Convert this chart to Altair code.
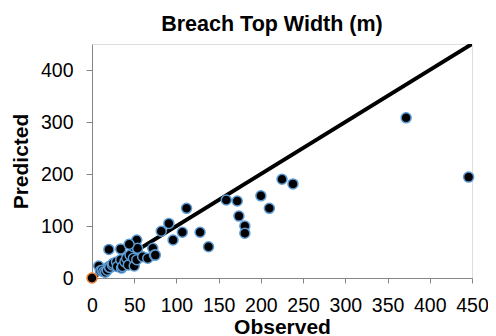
import altair as alt
import pandas as pd

observed = [8, 10, 12, 14, 16, 18, 20, 21, 24, 25, 29, 30, 34, 35, 36, 39, 41, 43, 45, 49, 49,
            50, 53, 53, 54, 60, 66, 72, 74, 75, 20, 34, 44,
            82, 91, 96, 107, 112, 128, 138, 159, 172, 174, 181, 181, 200, 210, 225, 238, 372, 446]
predicted = [23, 14, 15, 12, 11, 15, 22, 20, 25, 28, 31, 22, 35, 19, 22, 31, 38, 25, 44, 60, 38,
             23, 35, 73, 57, 41, 38, 57, 44, 44, 55, 56, 65,
             90, 105, 73, 88, 134, 88, 60, 150, 148, 119, 100, 86, 158, 134, 190, 181, 308, 194]
origin_obs = [0]
origin_pred = [0]
line_x = [0, 450]
line_y = [0, 450]
x_ticks = list(range(0, 451, 50))
y_ticks = list(range(0, 401, 100))

pts = pd.DataFrame({"Observed": observed, "Predicted": predicted})
orig = pd.DataFrame({"Observed": origin_obs, "Predicted": origin_pred})
ln = pd.DataFrame({"Observed": line_x, "Predicted": line_y})

FONT = "Liberation Sans"

xs = alt.Scale(domain=[0, 450], nice=False, zero=False)
ys = alt.Scale(domain=[0, 450], nice=False, zero=False)

xax = alt.Axis(values=x_ticks, title="Observed", grid=False, labelOverlap=False, labelFlush=False,
               labelFont=FONT, labelFontSize=19.5, labelColor="black", labelBaseline="alphabetic",
               titleFont=FONT, titleFontSize=21, titleFontWeight="bold", titleColor="black",
               tickColor="#868686", tickSize=5, domainColor="#868686", labelPadding=28,
               titleY=55, titleBaseline="alphabetic")
yax = alt.Axis(values=y_ticks, title="Predicted", grid=False, labelOverlap=False, labelFlush=False,
               labelFont=FONT, labelFontSize=19.5, labelColor="black",
               titleFont=FONT, titleFontSize=21, titleFontWeight="bold", titleColor="black",
               tickColor="#868686", tickSize=6, domainColor="#868686", labelPadding=13,
               titleX=-65, titleY=117, titleAngle=270, titleBaseline="alphabetic", titleAlign="center")

line = alt.Chart(ln).mark_line(color="black", strokeWidth=4, clip=True).encode(
    x=alt.X("Observed:Q", scale=xs, axis=xax),
    y=alt.Y("Predicted:Q", scale=ys, axis=yax),
)
points = alt.Chart(pts).mark_point(filled=False, fill="black", fillOpacity=1, stroke="#5B9BD5",
                                   strokeWidth=1.5, size=100, shape="circle", opacity=1).encode(
    x="Observed:Q", y="Predicted:Q"
)
origin = alt.Chart(orig).mark_point(filled=False, fill="black", fillOpacity=1, stroke="#ED7D31",
                                    strokeWidth=1.5, size=100, shape="circle", opacity=1).encode(
    x="Observed:Q", y="Predicted:Q"
)

chart = alt.layer(line, points, origin).properties(
    width=380, height=234,
    title=alt.TitleParams("Breach Top Width (m)", font=FONT, fontSize=21.5, fontWeight="bold",
                          color="black", anchor="middle", offset=16, baseline="alphabetic",
                          dx=-10, dy=24),
    autosize=alt.AutoSizeParams(type="none"),
    padding={"left": 84, "top": 36, "right": 16, "bottom": 58},
).configure_view(stroke="black", strokeWidth=4).configure(background="white")

chart.save("out.html", embed_options={"renderer": "svg", "actions": False})
